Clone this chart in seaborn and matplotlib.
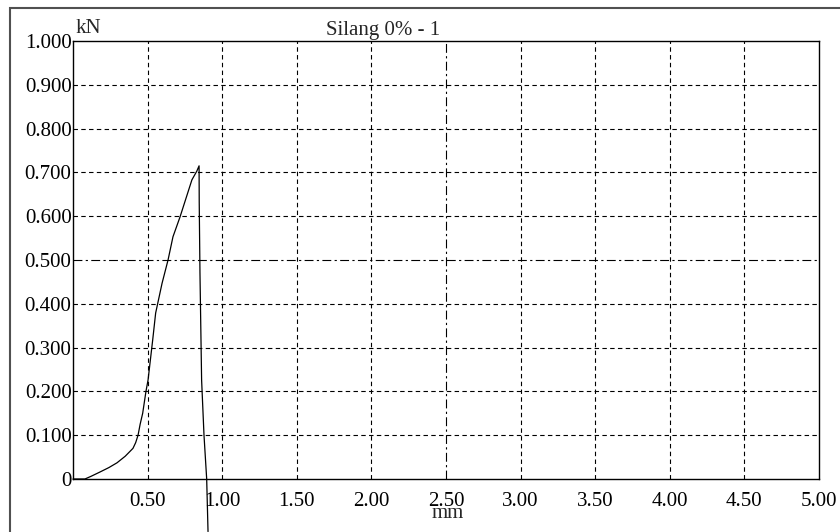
import matplotlib
matplotlib.use('Agg')
import matplotlib.pyplot as plt
from matplotlib.patches import Rectangle
from matplotlib.ticker import MultipleLocator
import seaborn as sns
import pandas as pd

# displacement (mm) and load (kN)
disp = [0.000, 0.080, 0.120, 0.181, 0.240, 0.295, 0.350, 0.402, 0.420, 0.436,
        0.450, 0.467, 0.489, 0.503, 0.534, 0.554, 0.597, 0.637, 0.670, 0.717,
        0.797, 0.830, 0.845, 0.846, 0.851, 0.862, 0.878, 0.896, 0.905]
load = [0.000, 0.000, 0.006, 0.016, 0.026, 0.037, 0.052, 0.070, 0.083, 0.100,
        0.125, 0.150, 0.200, 0.226, 0.317, 0.379, 0.447, 0.500, 0.553, 0.598,
        0.683, 0.703, 0.715, 0.632, 0.470, 0.226, 0.100, 0.000, -0.120]

x_ticks = [0.0, 0.5, 1.0, 1.5, 2.0, 2.5, 3.0, 3.5, 4.0, 4.5, 5.0]
x_labels = ['', '0.50', '1.00', '1.50', '2.00', '2.50', '3.00', '3.50', '4.00', '4.50', '5.00']
y_ticks = [0.0, 0.1, 0.2, 0.3, 0.4, 0.5, 0.6, 0.7, 0.8, 0.9, 1.0]
y_labels = ['0', '0.100', '0.200', '0.300', '0.400', '0.500', '0.600', '0.700', '0.800', '0.900', '1.000']

title = 'Silang 0% - 1'

df = pd.DataFrame({'mm': disp, 'kN': load})

sns.set_style('white')
plt.rcParams['font.family'] = ['Liberation Serif', 'DejaVu Serif']

fig = plt.figure(figsize=(8.4, 5.32), dpi=100)
ax = fig.add_axes([73 / 840, 1 - 479 / 532, 746 / 840, 438 / 532])

# grid drawn by hand: dashed, centre lines dash-dot
dash = (0, (4, 3))
dashdot = (0, (8, 3, 2, 3))
for v in x_ticks[1:-1]:
    ax.axvline(v, color='black', linewidth=0.8, linestyle=dashdot if v == 2.5 else dash, zorder=1)
for v in y_ticks[1:-1]:
    ax.axhline(v, color='black', linewidth=0.8, linestyle=dashdot if v == 0.5 else dash, zorder=1)

sns.lineplot(data=df, x='mm', y='kN', sort=False, estimator=None,
             color='black', linewidth=0.9, ax=ax, zorder=3)
ax.get_lines()[-1].set_clip_on(False)

ax.set_xlim(0, 5.0)
ax.set_ylim(0, 1.0)
ax.set_xticks(x_ticks)
ax.set_xticklabels(x_labels)
ax.set_yticks(y_ticks)
ax.set_yticklabels(y_labels)
ax.xaxis.set_minor_locator(MultipleLocator(0.1))
ax.yaxis.set_minor_locator(MultipleLocator(0.02))
ax.tick_params(axis='both', which='both', direction='in', colors='black',
               labelsize=15, width=0.8)
ax.tick_params(axis='both', which='major', length=4)
ax.tick_params(axis='both', which='minor', length=3)
ax.tick_params(axis='x', which='major', pad=9)
ax.tick_params(axis='y', which='major', pad=1)
ax.set_xlabel('')
ax.set_ylabel('')
ax.grid(False)

for side in ['left', 'bottom', 'right', 'top']:
    ax.spines[side].set_visible(True)
    ax.spines[side].set_color('black')
    ax.spines[side].set_linewidth(1.0)

fig.text(383 / 840, 1 - 35 / 532, title, fontsize=15, ha='center', va='baseline')
fig.text(76 / 840, 1 - 33 / 532, 'kN', fontsize=15, ha='left', va='baseline')
fig.text(448 / 840, 1 - 518 / 532, 'mm', fontsize=15, ha='center', va='baseline')

fig.patches.append(Rectangle((10 / 840, -0.1), 1.2, 1.1 - 8 / 532, transform=fig.transFigure,
                             fill=False, edgecolor='#505050', linewidth=1.5))

fig.savefig('out.png', dpi=100)
plt.close(fig)
